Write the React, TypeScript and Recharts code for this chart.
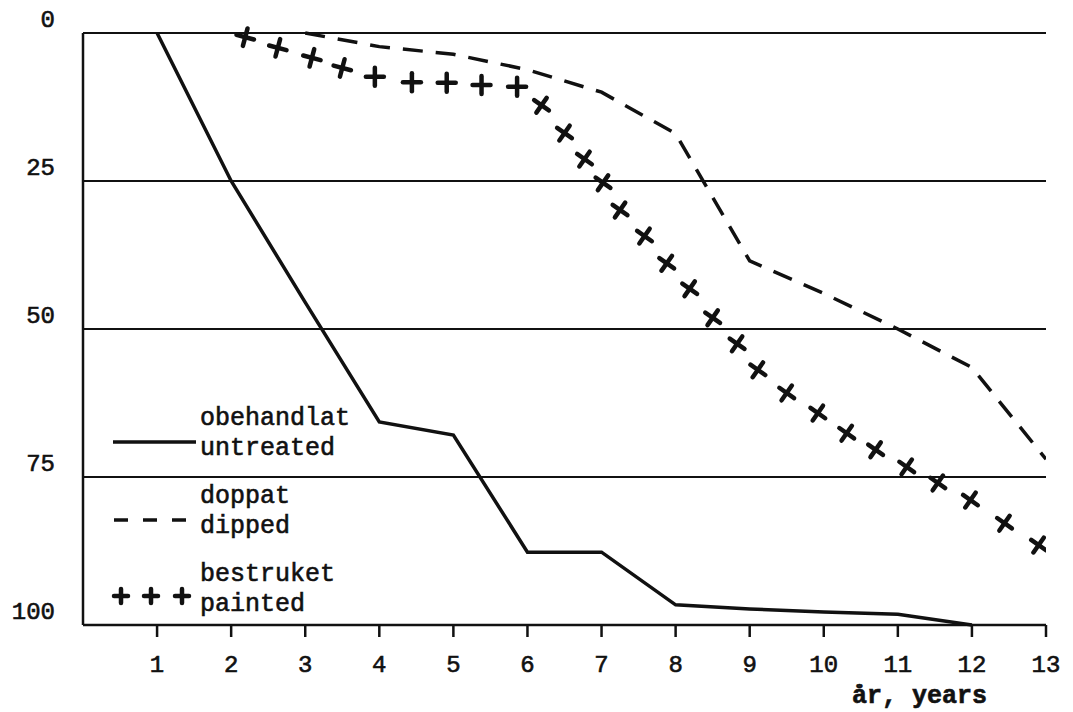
import React from "react";
import { ComposedChart, Line, Scatter, XAxis, YAxis, CartesianGrid } from "recharts";

// x axis ticks (years) and y axis ticks (percent)
const yearTicks = [1, 2, 3, 4, 5, 6, 7, 8, 9, 10, 11, 12, 13];
const percentTicks = [0, 25, 50, 75, 100];

// obehandlat / untreated
const untreatedYears = [1, 2, 3, 4, 5, 6, 7, 8, 9, 10, 11, 12];
const untreatedValues = [0, 25, 45.5, 65.7, 67.9, 87.7, 87.7, 96.6, 97.3, 97.8, 98.2, 100];

// doppat / dipped
const dippedYears = [3, 4, 5, 6, 7, 8, 9, 10, 11, 12, 13];
const dippedValues = [0, 2.3, 3.6, 6.2, 10, 17, 38.5, 44, 50, 56.5, 72];

// bestruket / painted (plotted as crosses)
const paintedYears = [
  2.19, 2.63, 3.09, 3.5, 3.94, 4.44, 4.91, 5.38, 5.86, 6.19, 6.5, 6.77, 7.02, 7.25, 7.58,
  7.88, 8.19, 8.5, 8.83, 9.11, 9.5, 9.92, 10.31, 10.7, 11.12, 11.54, 11.98, 12.44, 12.9,
];
const paintedValues = [
  0.7, 2.5, 4.2, 5.9, 7.4, 8.3, 8.4, 8.8, 9.1, 12.2, 16.9, 21.3, 25.3, 29.9, 34.3, 38.9,
  43.2, 48.1, 52.5, 56.9, 60.8, 64.2, 67.6, 70.4, 73.3, 76.0, 78.9, 82.8, 86.5,
];

const legendLabels = [
  ["obehandlat", "untreated"],
  ["doppat", "dipped"],
  ["bestruket", "painted"],
];
const xAxisTitle = "år, years";

const FONT = "'Liberation Mono', 'DejaVu Sans Mono', monospace";
const INK = "#111";

const toPoints = (xs: number[], ys: number[]) => xs.map((x, i) => ({ x, y: ys[i] }));

const untreated = toPoints(untreatedYears, untreatedValues);
const dipped = toPoints(dippedYears, dippedValues);
const painted = toPoints(paintedYears, paintedValues);

// typewriter look: a thin stroke on the glyphs makes them a bit heavier
const typed = { fontFamily: FONT, fill: INK, stroke: INK, strokeWidth: 0.6 };

function Cross({ cx, cy, size = 9, angle = 0 }: { cx: number; cy: number; size?: number; angle?: number }) {
  return (
    <g transform={`translate(${cx},${cy}) rotate(${angle})`}>
      <line x1={-size} y1={0} x2={size} y2={0} stroke={INK} strokeWidth={4.5} strokeLinecap="round" />
      <line x1={0} y1={-size} x2={0} y2={size} stroke={INK} strokeWidth={4.5} strokeLinecap="round" />
    </g>
  );
}

const PaintedShape = (props: any) => {
  const { cx, cy, index } = props;
  const angle = index < 4 ? 15 : index < 9 ? 0 : 35;
  return <Cross cx={cx} cy={cy} angle={angle} />;
};

const YTick = (props: any) => {
  const { y, payload } = props;
  return (
    <text x={55} y={y - 14} dy="0.35em" textAnchor="end" fontSize={24} {...typed}>
      {payload.value}
    </text>
  );
};

const XTick = (props: any) => {
  const { x, y, payload } = props;
  return (
    <text x={x} y={y + 35} textAnchor="middle" fontSize={24} {...typed}>
      {payload.value}
    </text>
  );
};

function LegendOverlay() {
  const rowTop = [425, 503, 581];
  return (
    <svg width={1073} height={712} style={{ position: "absolute", left: 0, top: 0, pointerEvents: "none" }}>
      {legendLabels.map((pair, i) => {
        const base = rowTop[i];
        const sy = base + 17;
        return (
          <g key={pair[0]}>
            {i === 0 && <line x1={113} y1={sy} x2={196} y2={sy} stroke={INK} strokeWidth={3.5} />}
            {i === 1 && (
              <line x1={114} y1={sy} x2={198} y2={sy} stroke={INK} strokeWidth={3.5} strokeDasharray="14 15" />
            )}
            {i === 2 && (
              <g>
                <Cross cx={121} cy={sy - 2} size={7} />
                <Cross cx={151} cy={sy - 2} size={7} />
                <Cross cx={182} cy={sy - 2} size={7} />
              </g>
            )}
            <text x={200} y={base} fontSize={25} {...typed}>
              {pair[0]}
            </text>
            <text x={200} y={base + 30} fontSize={25} {...typed}>
              {pair[1]}
            </text>
          </g>
        );
      })}
      <text x={852} y={703} fontSize={25} fontWeight="bold" {...typed}>
        {xAxisTitle}
      </text>
    </svg>
  );
}

export default function App() {
  return (
    <div style={{ position: "absolute", left: 0, top: 0, width: 1073, height: 712, background: "#fff" }}>
      <ComposedChart width={1073} height={712} margin={{ top: 33, right: 27, bottom: 27, left: 0 }}>
        <CartesianGrid vertical={false} stroke={INK} strokeWidth={2} />
        <XAxis
          type="number"
          dataKey="x"
          domain={[0, 13]}
          ticks={yearTicks}
          allowDataOverflow
          height={60}
          axisLine={{ stroke: INK, strokeWidth: 2.5 }}
          tickLine={{ stroke: INK, strokeWidth: 2.5 }}
          tickSize={12}
          tickMargin={0}
          tick={<XTick />}
        />
        <YAxis
          type="number"
          dataKey="y"
          domain={[0, 100]}
          ticks={percentTicks}
          reversed
          width={83}
          axisLine={{ stroke: INK, strokeWidth: 2.5 }}
          tickLine={false}
          tick={<YTick />}
        />
        <Line
          data={untreated}
          dataKey="y"
          stroke={INK}
          strokeWidth={3.5}
          dot={false}
          isAnimationActive={false}
        />
        <Line
          data={dipped}
          dataKey="y"
          stroke={INK}
          strokeWidth={3.5}
          strokeDasharray="20 13"
          dot={false}
          isAnimationActive={false}
        />
        <Scatter data={painted} dataKey="y" shape={PaintedShape} isAnimationActive={false} />
      </ComposedChart>
      <LegendOverlay />
    </div>
  );
}
